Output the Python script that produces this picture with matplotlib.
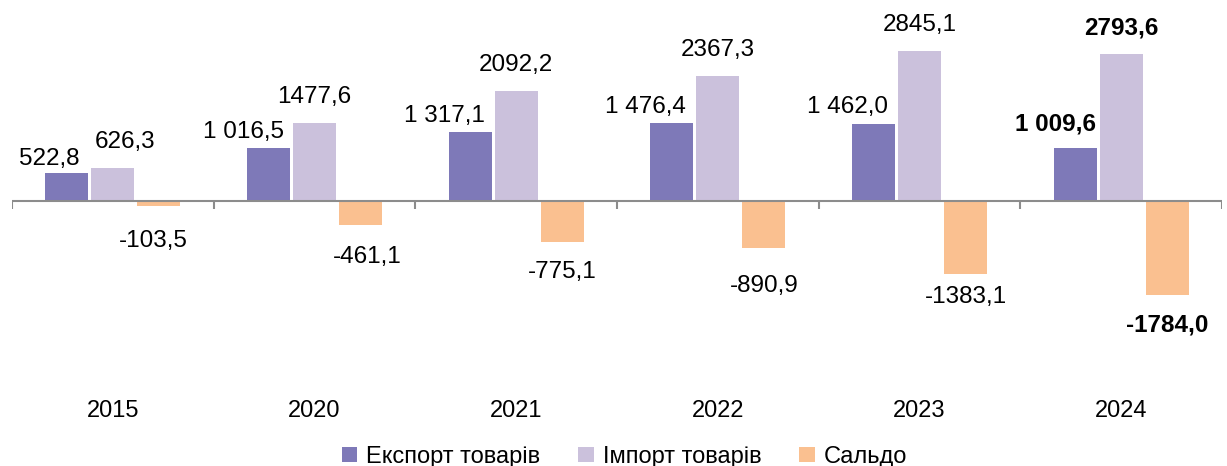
import matplotlib.pyplot as plt
import numpy as np

# data
years = ["2015", "2020", "2021", "2022", "2023", "2024"]
export = [522.8, 1016.5, 1317.1, 1476.4, 1462.0, 1009.6]
imports = [626.3, 1477.6, 2092.2, 2367.3, 2845.1, 2793.6]
saldo = [-103.5, -461.1, -775.1, -890.9, -1383.1, -1784.0]

# label nudges (pixels), picked by eye
exp_dx = [-18, -25, -26, -26, -26, -20]
exp_dy = [14, 16, 16, 16, 17, 24]
imp_dx = [12, 0, 0, 0, 0, 0]
sal_dx = [-6, 7, 0, 0, 0, 0]
sal_dy = [-35, -32, -30, -38, -23, -30]

c_exp = "#7E79B8"
c_imp = "#CBC1DC"
c_sal = "#FAC090"

plt.rcParams['font.family'] = ['Liberation Sans', 'DejaVu Sans']

def fmt_sp(v):
    return f"{v:,.1f}".replace(",", " ").replace(".", ",")

def fmt(v):
    return f"{v:.1f}".replace(".", ",")

fig = plt.figure(figsize=(12.27, 4.66), dpi=100)
ax = fig.add_axes([12 / 1227, (466 - 385) / 466, 1210 / 1227, 385 / 466])

x = np.arange(len(years))
w = 0.213
off = 0.228
ax.bar(x - off, export, w, color=c_exp, label="Експорт товарів")
ax.bar(x, imports, w, color=c_imp, label="Імпорт товарів")
ax.bar(x + off, saldo, w, color=c_sal, label="Сальдо")

ax.set_xlim(-0.5, 5.5)
ax.set_ylim(-3498, 3821)

ax.axhline(0, color="#8C8C8C", lw=1.5, zorder=3)
ax.vlines(np.arange(-0.5, 6, 1), -152, 0, color="#8C8C8C", lw=1.5, zorder=3)

px = 72 / 100  # pixels -> points
fs = 17.5
for i in range(len(years)):
    bold = "bold" if i == len(years) - 1 else "normal"
    ax.annotate(fmt_sp(export[i]), (x[i] - off, export[i]),
                xytext=(exp_dx[i] * px, exp_dy[i] * px), textcoords="offset points",
                ha="center", va="center", fontsize=fs, fontweight=bold)
    ax.annotate(fmt(imports[i]), (x[i], imports[i]),
                xytext=(imp_dx[i] * px, 26 * px), textcoords="offset points",
                ha="center", va="center", fontsize=fs, fontweight=bold)
    ax.annotate(fmt(saldo[i]), (x[i] + off, saldo[i]),
                xytext=(sal_dx[i] * px, sal_dy[i] * px), textcoords="offset points",
                ha="center", va="center", fontsize=fs, fontweight=bold)

ax.set_xticks(x)
ax.set_xticklabels(years, fontsize=17)
ax.tick_params(axis="x", length=0, pad=11)
ax.set_yticks([])
for s in ax.spines.values():
    s.set_visible(False)

fig.legend(loc="center", bbox_to_anchor=(0.509, 0.02), ncol=3, frameon=False,
           fontsize=17, handlelength=0.65, handleheight=0.65, handletextpad=0.4,
           columnspacing=1.6)

fig.savefig("out.png", dpi=100)
